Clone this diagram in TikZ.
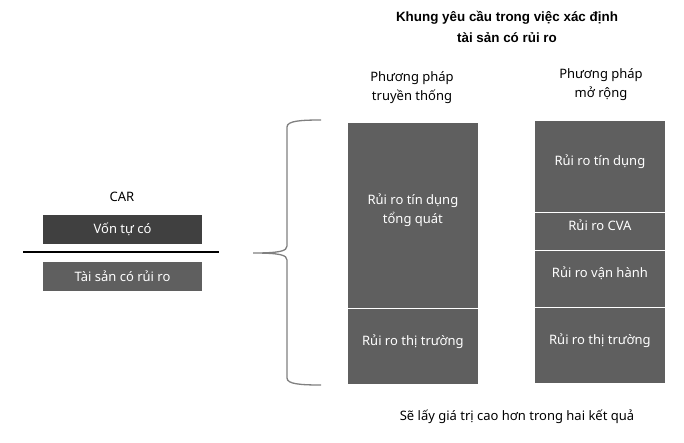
\documentclass[tikz,border=0pt]{standalone}
\usepackage{fontspec}
\setmainfont{Noto Sans}
\newfontfamily\titlefont{Liberation Sans}
\definecolor{darkbox}{HTML}{404040}
\definecolor{midbox}{HTML}{5F5F5F}
\definecolor{bracegray}{HTML}{808080}
\tikzset{
  seg/.style={draw=white,line width=0.8pt,fill=midbox,text=white,text depth=13pt,
    minimum width=131pt,anchor=north west,inner sep=0pt,align=center,font=\fontsize{13}{19}\selectfont},
  carbox/.style={minimum width=159pt,minimum height=29pt,inner sep=0pt,text=white,font=\fontsize{13}{16}\selectfont},
  lbl/.style={align=center,font=\fontsize{13}{19}\selectfont}
}
\begin{document}
\begin{tikzpicture}[x=1pt,y=-1pt]
    \useasboundingbox (0,0) rectangle (684,442);

    % Title
    \node[lbl,font=\titlefont\fontsize{13.4}{21}\selectfont\bfseries] (title) at (507,27) {Khung yêu cầu trong việc xác định\\tài sản có rủi ro};

    % CAR fraction
    \node[lbl] (car) at (122,197) {CAR};
    \node[carbox,fill=darkbox] (von) at (122.5,229.5) {Vốn tự có};
    \draw[line width=1.2pt] (23,252) -- (219,252);
    \node[carbox,fill=midbox] (tsrr) at (122.5,276) {Tài sản có rủi ro};

    % Brace
    \draw[bracegray,line width=1.3pt] (321,120) .. controls (300,120) and (287,121) .. (287,127)
      -- (287,246) .. controls (287,251) and (280,253) .. (253,253)
      .. controls (280,253) and (287,255) .. (287,260)
      -- (287,378) .. controls (287,384) and (300,385) .. (321,385);

    % Column headers
    \node[lbl] (trad) at (412,88) {Phương pháp\\truyền thống};
    \node[lbl] (ext) at (601,85) {Phương pháp\\mở rộng};

    % Traditional approach
    \node[seg,minimum height=186pt] (tdtq) at (347,122) {Rủi ro tín dụng\\tổng quát};
    \node[seg,minimum height=76pt] (tt1) at (347,308) {Rủi ro thị trường};

    % Extended approach
    \node[seg,minimum height=92pt] (td) at (534,120) {Rủi ro tín dụng};
    \node[seg,minimum height=38pt] (cva) at (534,212) {Rủi ro CVA};
    \node[seg,minimum height=57pt] (vh) at (534,250) {Rủi ro vận hành};
    \node[seg,minimum height=76pt] (tt2) at (534,307) {Rủi ro thị trường};

    % Footnote
    \node[lbl] (note) at (517,417) {Sẽ lấy giá trị cao hơn trong hai kết quả};
\end{tikzpicture}
\end{document}
